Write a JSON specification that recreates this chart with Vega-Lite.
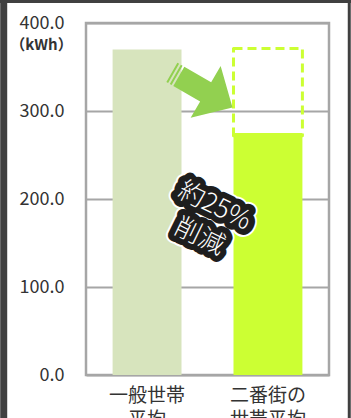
{
  "$schema": "https://vega.github.io/schema/vega-lite/v6.json",
  "width": 243,
  "height": 352,
  "autosize": {"type": "none"},
  "padding": {"left": 86, "top": 23, "right": 22, "bottom": 43},
  "background": "white",
  "config": {
    "view": {"stroke": "#a6a6a6", "strokeWidth": 2.5},
    "font": "Noto Sans CJK JP"
  },
  "datasets": {
    "bars": [
      {"category": "一般世帯平均", "value": 370},
      {"category": "二番街の世帯平均", "value": 275}
    ],
    "before": [
      {"category": "二番街の世帯平均", "value": 272, "before": 371}
    ],
    "arrow": [
      {"category": "一般世帯平均", "y": 324}
    ],
    "badge": [
      {"category": "一般世帯平均", "y": 192, "label": "約25%\n削減"}
    ],
    "frameLeft": [
      {"category": "一般世帯平均", "y": -60, "y2": 440}
    ],
    "frameRight": [
      {"category": "二番街の世帯平均", "y": -60, "y2": 440}
    ],
    "frameTop": [
      {"category": "一般世帯平均", "category2": "二番街の世帯平均", "y": 424.4}
    ]
  },
  "encoding": {
    "x": {
      "field": "category",
      "type": "nominal",
      "sort": ["一般世帯平均", "二番街の世帯平均"],
      "scale": {"domain": ["一般世帯平均", "二番街の世帯平均"], "paddingInner": 0.43, "paddingOuter": 0.22},
      "axis": {
        "title": null,
        "labelAngle": 0,
        "domain": false,
        "ticks": false,
        "labelPadding": 11,
        "labelFontSize": 19,
        "labelColor": "#333333",
        "labelLineHeight": 24,
        "labelExpr": "datum.value == '一般世帯平均' ? ['一般世帯', '平均'] : ['二番街の', '世帯平均']"
      }
    }
  },
  "layer": [
    {
      "data": {"name": "before"},
      "mark": {"type": "bar", "fill": "white", "fillOpacity": 0, "stroke": "#ccff33", "strokeWidth": 3, "strokeDash": [9, 5], "strokeJoin": "round"},
      "encoding": {
        "y": {
          "field": "before",
          "type": "quantitative",
          "scale": {"domain": [0, 400], "nice": false, "zero": true},
          "axis": {
            "values": [0, 100, 200, 300, 400],
            "format": ".1f",
            "grid": true,
            "gridColor": "#a6a6a6",
            "gridWidth": 2,
            "domain": false,
            "ticks": false,
            "labelPadding": 22,
            "labelFontSize": 18,
            "labelColor": "#333333",
            "title": "（kWh）",
            "titleAngle": 0,
            "titleFontSize": 15,
            "titleFontWeight": "bold",
            "titleColor": "#333333",
            "titleX": -45,
            "titleY": 21,
            "titleAlign": "center",
            "titleBaseline": "middle"
          }
        },
        "y2": {"field": "value"}
      }
    },
    {
      "data": {"name": "bars"},
      "mark": {"type": "bar"},
      "encoding": {
        "y": {"field": "value", "type": "quantitative"},
        "color": {
          "field": "category",
          "type": "nominal",
          "scale": {"domain": ["一般世帯平均", "二番街の世帯平均"], "range": ["#d7e4bd", "#ccff33"]},
          "legend": null
        }
      }
    },
    {
      "data": {"name": "arrow"},
      "mark": {
        "type": "point",
        "shape": "M -0.875 -0.275 L -0.825 -0.275 L -0.825 0.275 L -0.875 0.275 Z M -0.775 -0.275 L -0.725 -0.275 L -0.725 0.275 L -0.775 0.275 Z M -0.675 -0.275 L 0.1 -0.275 L 0.1 -0.75 L 0.875 0 L 0.1 0.75 L 0.1 0.275 L -0.675 0.275 Z",
        "filled": true,
        "fill": "#92d050",
        "strokeWidth": 0,
        "opacity": 1,
        "size": 6400,
        "angle": 30
      },
      "encoding": {
        "x": {"field": "category", "type": "nominal", "bandPosition": 1.3},
        "y": {"field": "y", "type": "quantitative"}
      }
    },
    {
      "data": {"name": "badge"},
      "mark": {"type": "text", "lineBreak": "\n", "angle": 26, "fontSize": 26, "lineHeight": 34, "align": "center", "baseline": "middle", "fill": "white", "stroke": "white", "strokeWidth": 16, "strokeJoin": "round"},
      "encoding": {
        "x": {"field": "category", "type": "nominal", "bandPosition": 1.48},
        "y": {"field": "y", "type": "quantitative"},
        "text": {"field": "label"}
      }
    },
    {
      "data": {"name": "badge"},
      "mark": {"type": "text", "lineBreak": "\n", "angle": 26, "fontSize": 26, "lineHeight": 34, "align": "center", "baseline": "middle", "fill": "#1e1e1e", "stroke": "#1e1e1e", "strokeWidth": 12, "strokeJoin": "round"},
      "encoding": {
        "x": {"field": "category", "type": "nominal", "bandPosition": 1.48},
        "y": {"field": "y", "type": "quantitative"},
        "text": {"field": "label"}
      }
    },
    {
      "data": {"name": "badge"},
      "mark": {"type": "text", "lineBreak": "\n", "angle": 26, "fontSize": 26, "lineHeight": 34, "align": "center", "baseline": "middle", "fill": "white", "fontWeight": 300},
      "encoding": {
        "x": {"field": "category", "type": "nominal", "bandPosition": 1.48},
        "y": {"field": "y", "type": "quantitative"},
        "text": {"field": "label"}
      }
    },
    {
      "data": {"name": "frameLeft"},
      "mark": {"type": "rule", "color": "#404040", "strokeWidth": 7, "clip": false},
      "encoding": {
        "x": {"field": "category", "type": "nominal", "bandPosition": -1.58},
        "y": {"field": "y", "type": "quantitative"},
        "y2": {"field": "y2"}
      }
    },
    {
      "data": {"name": "frameRight"},
      "mark": {"type": "rule", "color": "#404040", "strokeWidth": 3, "clip": false},
      "encoding": {
        "x": {"field": "category", "type": "nominal", "bandPosition": 1.68},
        "y": {"field": "y", "type": "quantitative"},
        "y2": {"field": "y2"}
      }
    },
    {
      "data": {"name": "frameTop"},
      "mark": {"type": "rule", "color": "#404040", "strokeWidth": 3, "clip": false},
      "encoding": {
        "x": {"field": "category", "type": "nominal", "bandPosition": -1.7},
        "x2": {"field": "category2", "bandPosition": 1.8},
        "y": {"field": "y", "type": "quantitative"}
      }
    }
  ]
}
